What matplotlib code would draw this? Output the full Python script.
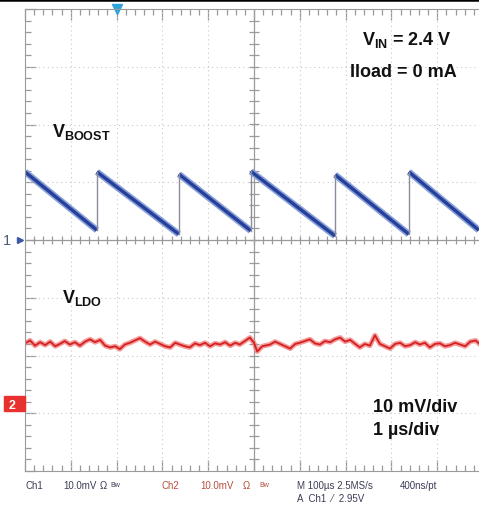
import numpy as np
import matplotlib.pyplot as plt
from matplotlib.ticker import MultipleLocator
from matplotlib.lines import Line2D
from matplotlib.patches import Rectangle

W, H = 479, 506

# scope screen, x in us (1 us/div), y in divisions from centre
boost_t = [0.0, 1.57, 1.57, 3.36, 3.36, 4.93, 4.93, 6.77, 6.77, 8.38, 8.38, 9.91]
boost_v = [1.18, 0.17, 1.18, 0.10, 1.14, 0.16, 1.19, 0.07, 1.13, 0.10, 1.18, 0.17]

ldo_t = [0.00, 0.11, 0.22, 0.33, 0.44, 0.55, 0.66, 0.76, 0.87, 0.98, 1.09, 1.20, 1.31,
         1.42, 1.53, 1.64, 1.75, 1.86, 1.97, 2.07, 2.18, 2.29, 2.40, 2.51, 2.62, 2.73,
         2.84, 2.95, 3.06, 3.17, 3.28, 3.38, 3.49, 3.60, 3.71, 3.82, 3.93, 4.04, 4.15,
         4.26, 4.37, 4.48, 4.59, 4.69, 4.80, 4.91, 5.00, 5.07, 5.18, 5.35, 5.46, 5.57,
         5.68, 5.79, 5.90, 6.00, 6.11, 6.22, 6.33, 6.44, 6.55, 6.66, 6.77, 6.88, 6.99,
         7.10, 7.21, 7.31, 7.42, 7.53, 7.64, 7.75, 7.86, 7.97, 8.08, 8.19, 8.30, 8.41,
         8.52, 8.62, 8.73, 8.84, 8.95, 9.06, 9.17, 9.28, 9.39, 9.50, 9.61, 9.72, 9.84, 9.91]
ldo_v = [-1.79, -1.74, -1.83, -1.77, -1.82, -1.76, -1.84, -1.80, -1.75, -1.81, -1.77, -1.83, -1.76,
         -1.72, -1.77, -1.73, -1.83, -1.86, -1.84, -1.89, -1.81, -1.78, -1.74, -1.70, -1.76, -1.81,
         -1.76, -1.80, -1.84, -1.86, -1.78, -1.81, -1.84, -1.86, -1.79, -1.82, -1.78, -1.84, -1.79,
         -1.81, -1.77, -1.83, -1.78, -1.81, -1.75, -1.69, -1.78, -1.93, -1.84, -1.81, -1.76, -1.80,
         -1.84, -1.88, -1.80, -1.78, -1.75, -1.72, -1.79, -1.81, -1.75, -1.77, -1.72, -1.69, -1.76,
         -1.73, -1.80, -1.86, -1.80, -1.83, -1.65, -1.80, -1.84, -1.88, -1.80, -1.78, -1.84, -1.82,
         -1.77, -1.81, -1.78, -1.86, -1.80, -1.79, -1.84, -1.82, -1.78, -1.81, -1.84, -1.76, -1.74, -1.79]

plt.rcParams['font.family'] = ['Liberation Sans', 'DejaVu Sans']
plt.rcParams['mathtext.fontset'] = 'custom'
plt.rcParams['mathtext.rm'] = 'Liberation Sans:bold'
plt.rcParams['mathtext.it'] = 'Liberation Sans:bold'
plt.rcParams['mathtext.bf'] = 'Liberation Sans:bold'

fig = plt.figure(figsize=(W / 100, H / 100), dpi=100)
ax = fig.add_axes([25 / W, 1 - 472 / H, 458 / W, 462 / H])
ax.set_xlim(0, 10)
ax.set_ylim(-4, 4)

grid_c = '#c8c8c8'
axis_c = '#9a9a9a'
for i in range(1, 10):
    if i != 5:
        ax.axvline(i, color=grid_c, lw=0.8, ls=(0, (1, 3)))
for j in range(-3, 4):
    if j != 0:
        ax.axhline(j, color=grid_c, lw=0.8, ls=(0, (1, 3)))
ax.axvline(5, color=axis_c, lw=0.9)
ax.axhline(0, color=axis_c, lw=0.9)
ax.vlines(np.arange(0.2, 10, 0.2), -0.07, 0.07, color=axis_c, lw=0.9)
ax.hlines(np.arange(-3.8, 4, 0.2), 4.9, 5.1, color=axis_c, lw=0.9)

for s in ['left', 'bottom', 'top']:
    ax.spines[s].set_color(axis_c)
ax.spines['right'].set_visible(False)
ax.xaxis.set_major_locator(MultipleLocator(1))
ax.xaxis.set_minor_locator(MultipleLocator(0.2))
ax.yaxis.set_major_locator(MultipleLocator(1))
ax.yaxis.set_minor_locator(MultipleLocator(0.2))
ax.tick_params(which='both', direction='in', top=True, bottom=True, left=True, right=False,
               labelbottom=False, labelleft=False, color=axis_c)
ax.tick_params(which='major', length=8, width=0.9)
ax.tick_params(which='minor', length=4, width=0.9)

# Vboost sawtooth: ramps thick blue, edges thin grey
for k in range(0, len(boost_t), 2):
    ax.plot(boost_t[k:k + 2], boost_v[k:k + 2], color='#8aa0d8', lw=4.8, solid_capstyle='butt')
    ax.plot(boost_t[k:k + 2], boost_v[k:k + 2], color='#24409a', lw=2.4, solid_capstyle='butt')
for k in range(1, len(boost_t) - 1, 2):
    ax.plot(boost_t[k:k + 2], boost_v[k:k + 2], color='#8c8c9c', lw=1.0)

# Vldo ripple
ax.plot(ldo_t, ldo_v, color='#f27a7a', lw=3.6, alpha=0.75)
ax.plot(ldo_t, ldo_v, color='#d42020', lw=1.3)

# channel markers
ax.plot([2.0], [4.0], marker='v', ms=7, color='#2ea3dc', clip_on=False)
ax.plot([-0.1], [0.0], marker='>', ms=4, color='#3a5aa8', clip_on=False)


def ftxt(x, y, s, **kw):
    fig.text(x / W, 1 - y / H, s, **kw)


ftxt(3, 245, '1', color='#4a5a7a', fontsize=10.5)
fig.add_artist(Rectangle((4 / W, 1 - 412 / H), 21 / W, 15 / H, color='#e8312f',
                         transform=fig.transFigure))
ftxt(9, 409, '2', color='white', fontsize=9, fontweight='bold')

fig.add_artist(Line2D([0, 1], [1 - 1 / H, 1 - 1 / H], color='black', lw=1.8))

big = dict(fontsize=13, fontweight='bold', color='#111111', va='baseline')
ftxt(362, 45, r'$V_{IN}$ = 2.4 V', **big)
ftxt(350, 77, 'Iload = 0 mA', **big)
ftxt(52, 137, r'$V_{BOOST}$', **big)
ftxt(62, 303, r'$V_{LDO}$', **big)
ftxt(373, 412, '10 mV/div', **big)
ftxt(373, 435, '1 \u00b5s/div', **big)

c1 = '#3c3c58'
c2 = '#b5503e'
small = dict(fontsize=7, va='baseline')
tiny = dict(fontsize=5, va='baseline')
ftxt(25, 489, 'Ch1', color=c1, **small)
ftxt(63, 489, '10.0mV', color=c1, **small)
ftxt(100, 489, '\u03a9', color=c1, **small)
ftxt(110, 487, 'Bw', color=c1, **tiny)
ftxt(161, 489, 'Ch2', color=c2, **small)
ftxt(200, 489, '10.0mV', color=c2, **small)
ftxt(243, 489, '\u03a9', color=c2, **small)
ftxt(259, 487, 'Bw', color=c2, **tiny)
ftxt(297, 489, 'M 100\u00b5s 2.5MS/s', color=c1, **small)
ftxt(400, 489, '400ns/pt', color=c1, **small)
ftxt(297, 502, 'A  Ch1  \u2044  2.95V', color=c1, **small)

fig.savefig('out.png', dpi=100)
